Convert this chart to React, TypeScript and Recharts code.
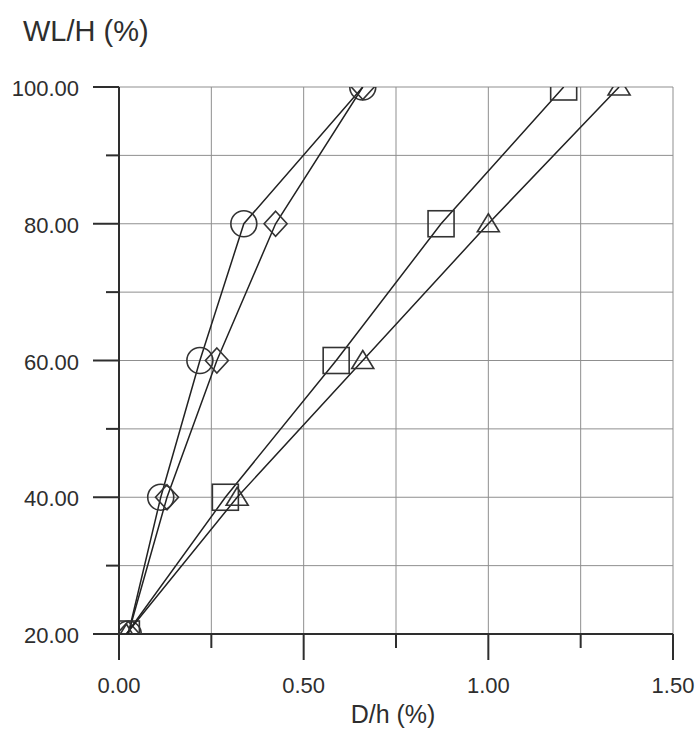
import React from 'react';
import { ScatterChart, Scatter, XAxis, YAxis, CartesianGrid } from 'recharts';

const levels = [20, 40, 60, 80, 100];
const circleX = [0.025, 0.113, 0.219, 0.338, 0.66];
const diamondX = [0.025, 0.13, 0.265, 0.424, 0.66];
const squareX = [0.02, 0.288, 0.588, 0.872, 1.204];
const triangleX = [0.02, 0.32, 0.66, 1.0, 1.354];
const xTicks = [0, 0.25, 0.5, 0.75, 1, 1.25, 1.5];
const yTicks = [20, 30, 40, 50, 60, 70, 80, 90, 100];
const xTitle = 'D/h (%)';
const yTitle = 'WL/H (%)';

const toPoints = (xs: number[]) => xs.map((x, i) => ({ x, y: levels[i] }));
const circleData = toPoints(circleX);
const diamondData = toPoints(diamondX);
const squareData = toPoints(squareX);
const triangleData = toPoints(triangleX);

const FONT = '"Liberation Sans", Arial, Helvetica, sans-serif';
const INK = '#2e2e2e';
const MARK = { fill: 'none', stroke: '#333', strokeWidth: 1.6 };
const LINE = { stroke: '#222', strokeWidth: 1.5 };

const CircleShape = (p: any) => <circle cx={p.cx} cy={p.cy} r={13} {...MARK} />;
const DiamondShape = (p: any) => (
  <polygon
    points={`${p.cx},${p.cy - 12.5} ${p.cx + 11.5},${p.cy} ${p.cx},${p.cy + 12.5} ${p.cx - 11.5},${p.cy}`}
    {...MARK}
  />
);
const SquareShape = (p: any) => <rect x={p.cx - 13} y={p.cy - 13} width={26} height={26} {...MARK} />;
const TriangleShape = (p: any) => (
  <polygon
    points={`${p.cx},${p.cy - 10} ${p.cx + 11},${p.cy + 8} ${p.cx - 11},${p.cy + 8}`}
    {...MARK}
  />
);

const XTick = (props: any) => {
  const { x, y, payload } = props;
  const v = payload.value as number;
  const major = Math.abs(v * 2 - Math.round(v * 2)) < 1e-6;
  return (
    <g>
      <line x1={x} x2={x} y1={y} y2={y + (major ? 26 : 14)} stroke={INK} strokeWidth={2} />
      {major && (
        <text x={x} y={y + 59} textAnchor="middle" fontSize={22} fill={INK} fontFamily={FONT}>
          {v.toFixed(2)}
        </text>
      )}
    </g>
  );
};

const YTick = (props: any) => {
  const { x, y, payload } = props;
  const v = payload.value as number;
  const major = v % 20 === 0;
  return (
    <g>
      <line x1={x - (major ? 26 : 13)} x2={x} y1={y} y2={y} stroke={INK} strokeWidth={2} />
      {major && (
        <text x={x - 40} y={y + 9} textAnchor="end" fontSize={22} fill={INK} fontFamily={FONT}>
          {v.toFixed(2)}
        </text>
      )}
    </g>
  );
};

export default function App() {
  return (
    <div style={{ position: 'absolute', left: 0, top: 0, width: 700, height: 731, background: '#fff' }}>
      <ScatterChart width={700} height={731} margin={{ top: 87, right: 27, bottom: 37, left: 0 }}>
        <CartesianGrid stroke="#8f8f8f" strokeWidth={1} />
        <XAxis
          type="number"
          dataKey="x"
          domain={[0, 1.5]}
          ticks={xTicks}
          interval={0}
          tickSize={0}
          tickMargin={0}
          tickLine={false}
          tick={<XTick />}
          height={60}
          axisLine={{ stroke: INK, strokeWidth: 2 }}
          allowDataOverflow
          label={{
            content: (lp: any) => {
              const vb = lp.viewBox;
              return (
                <text x={vb.x + vb.width / 2 - 3} y={vb.y + 89} textAnchor="middle" fontSize={25} fill={INK} fontFamily={FONT}>
                  {xTitle}
                </text>
              );
            },
          }}
        />
        <YAxis
          type="number"
          dataKey="y"
          domain={[20, 100]}
          ticks={yTicks}
          interval={0}
          tickSize={0}
          tickMargin={0}
          tickLine={false}
          tick={<YTick />}
          width={119}
          axisLine={{ stroke: INK, strokeWidth: 2 }}
          allowDataOverflow
          label={{
            content: () => (
              <text x={23} y={41} textAnchor="start" fontSize={29} fill={INK} fontFamily={FONT}>
                {yTitle}
              </text>
            ),
          }}
        />
        <Scatter data={circleData} shape={CircleShape} line={LINE} isAnimationActive={false} />
        <Scatter data={diamondData} shape={DiamondShape} line={LINE} isAnimationActive={false} />
        <Scatter data={squareData} shape={SquareShape} line={LINE} isAnimationActive={false} />
        <Scatter data={triangleData} shape={TriangleShape} line={LINE} isAnimationActive={false} />
      </ScatterChart>
    </div>
  );
}
